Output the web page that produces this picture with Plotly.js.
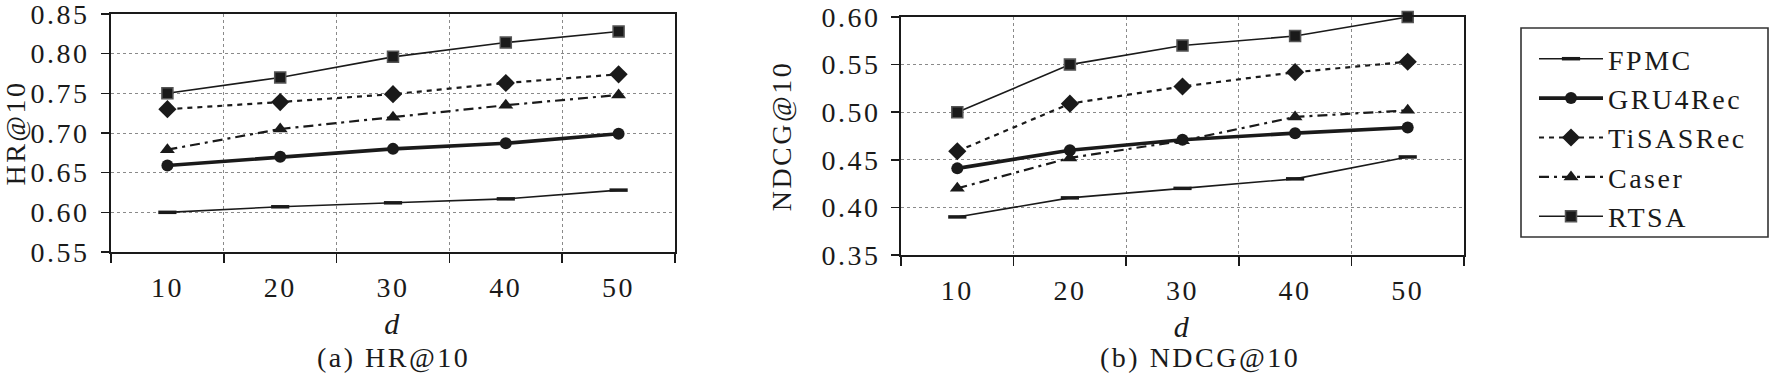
<!DOCTYPE html>
<html>
<head>
<meta charset="utf-8">
<script src="https://cdn.plot.ly/plotly-3.0.1.min.js"></script>
<style>
  html, body { margin: 0; padding: 0; background: #fff; }
  #chart { width: 1771px; height: 375px; }
  svg text { letter-spacing: 2.5px; }
</style>
</head>
<body>
<div id="chart"></div>
<script>
// ---- data ----
const categories = [10, 20, 30, 40, 50];
const seriesNames = ["FPMC", "GRU4Rec", "TiSASRec", "Caser", "RTSA"];

// (a) HR@10
const hrFPMC    = [0.600, 0.607, 0.612, 0.617, 0.628];
const hrGRU4Rec = [0.659, 0.670, 0.680, 0.687, 0.699];
const hrTiSASRec= [0.730, 0.739, 0.749, 0.763, 0.774];
const hrCaser   = [0.679, 0.705, 0.720, 0.735, 0.748];
const hrRTSA    = [0.750, 0.770, 0.796, 0.814, 0.828];

// (b) NDCG@10
const ndFPMC    = [0.390, 0.410, 0.420, 0.430, 0.453];
const ndGRU4Rec = [0.441, 0.460, 0.471, 0.478, 0.484];
const ndTiSASRec= [0.459, 0.509, 0.527, 0.542, 0.553];
const ndCaser   = [0.420, 0.452, 0.470, 0.495, 0.502];
const ndRTSA    = [0.500, 0.550, 0.570, 0.580, 0.600];

const xTickLabels = ["10", "20", "30", "40", "50"];
const catBoundaries = [5, 15, 25, 35, 45, 55];
const hrTickVals = [0.55, 0.60, 0.65, 0.70, 0.75, 0.80, 0.85];
const hrTickText = ["0.55", "0.60", "0.65", "0.70", "0.75", "0.80", "0.85"];
const ndTickVals = [0.35, 0.40, 0.45, 0.50, 0.55, 0.60];
const ndTickText = ["0.35", "0.40", "0.45", "0.50", "0.55", "0.60"];

// ---- styles ----
const FONT = "Liberation Serif";
const INK = "#1a1a1a";
const styles = {
  FPMC:     {line: {color: INK, width: 1.6, dash: "solid"}, marker: {symbol: "line-ew", size: 13, line: {width: 3.5, color: INK}}},
  GRU4Rec:  {line: {color: INK, width: 3.6, dash: "solid"}, marker: {symbol: "circle", size: 12, color: INK}},
  TiSASRec: {line: {color: INK, width: 2.2, dash: "5px,5px"}, marker: {symbol: "diamond", size: 14, color: INK}},
  Caser:    {line: {color: INK, width: 2.2, dash: "10px,5px,3px,5px"}, marker: {symbol: "triangle-up", size: 13, color: INK}},
  RTSA:     {line: {color: INK, width: 1.6, dash: "solid"}, marker: {symbol: "square", size: 11, color: INK, line: {width: 1.5, color: "#555"}}}
};

const hrData = {FPMC: hrFPMC, GRU4Rec: hrGRU4Rec, TiSASRec: hrTiSASRec, Caser: hrCaser, RTSA: hrRTSA};
const ndData = {FPMC: ndFPMC, GRU4Rec: ndGRU4Rec, TiSASRec: ndTiSASRec, Caser: ndCaser, RTSA: ndRTSA};

const traces = [];
seriesNames.forEach(name => {
  traces.push(Object.assign({
    type: "scatter", mode: "lines+markers", name: name, x: categories, y: hrData[name],
    xaxis: "x", yaxis: "y", legendgroup: name, showlegend: true, cliponaxis: false
  }, JSON.parse(JSON.stringify(styles[name]))));
});
seriesNames.forEach(name => {
  traces.push(Object.assign({
    type: "scatter", mode: "lines+markers", name: name, x: categories, y: ndData[name],
    xaxis: "x2", yaxis: "y2", legendgroup: name, showlegend: false, cliponaxis: false
  }, JSON.parse(JSON.stringify(styles[name]))));
});

const W = 1771, H = 375;
const px = v => v / W;
const py = v => 1 - v / H;

function xAxis(domain, anchor) {
  return {
    domain: domain, anchor: anchor, range: [5, 55],
    tickmode: "array", tickvals: categories, ticktext: xTickLabels,
    ticks: "", showgrid: false, zeroline: false,
    showline: true, linecolor: INK, linewidth: 1.8, mirror: true,
    tickfont: {family: FONT, size: 28, color: INK},
    ticklabelstandoff: 10,
    minor: {tickmode: "array", tickvals: catBoundaries, ticks: "outside", ticklen: 9, tickwidth: 1.5, tickcolor: INK,
            showgrid: true, gridcolor: "#8a8a8a", gridwidth: 1, griddash: "dot"},
    title: {text: "<i>d</i>", font: {family: FONT, size: 30, color: INK}, standoff: 10}
  };
}
function yAxis(domain, anchor, range, tv, tt, title, standoff, labelStandoff) {
  return {
    domain: domain, anchor: anchor, range: range,
    tickmode: "array", tickvals: tv, ticktext: tt, ticklabeloverflow: "allow",
    ticks: "outside", ticklen: 8, tickwidth: 1.5, tickcolor: INK,
    showgrid: true, gridcolor: "#8a8a8a", gridwidth: 1, griddash: "dot", zeroline: false,
    showline: true, linecolor: INK, linewidth: 1.8, mirror: true,
    tickfont: {family: FONT, size: 28, color: INK},
    ticklabelstandoff: labelStandoff,
    title: {text: title, font: {family: FONT, size: 28, color: INK}, standoff: standoff}
  };
}

const layout = {
  width: W, height: H,
  margin: {l: 0, r: 0, t: 0, b: 0},
  paper_bgcolor: "#fff", plot_bgcolor: "#fff",
  font: {family: FONT, size: 28, color: INK},
  xaxis: xAxis([px(111), px(675)], "y"),
  yaxis: yAxis([py(252), py(14)], "x", [0.55, 0.85], hrTickVals, hrTickText, "HR@10", 8, 6),
  xaxis2: xAxis([px(901), px(1464)], "y2"),
  yaxis2: yAxis([py(255), py(17)], "x2", [0.35, 0.60], ndTickVals, ndTickText, "NDCG@10", 22, 5),
  showlegend: true,
  legend: {
    x: px(1534), y: py(34), xanchor: "left", yanchor: "top",
    bgcolor: "rgba(0,0,0,0)", borderwidth: 0,
    font: {family: FONT, size: 28, color: INK},
    itemwidth: 64, tracegroupgap: 0, traceorder: "normal"
  },
  shapes: [
    {type: "rect", xref: "paper", yref: "paper", x0: px(1521), x1: px(1768), y0: py(237), y1: py(28),
     line: {color: "#333", width: 1.6}, fillcolor: "rgba(0,0,0,0)"}
  ],
  annotations: [
    {xref: "paper", yref: "paper", x: px(393), y: 0, text: "(a) HR@10", showarrow: false,
     font: {family: FONT, size: 28, color: INK}, xanchor: "center", yanchor: "bottom"},
    {xref: "paper", yref: "paper", x: px(1200), y: 0, text: "(b) NDCG@10", showarrow: false,
     font: {family: FONT, size: 28, color: INK}, xanchor: "center", yanchor: "bottom"}
  ]
};

Plotly.newPlot("chart", traces, layout, {staticPlot: true, displayModeBar: false});
</script>
</body>
</html>
